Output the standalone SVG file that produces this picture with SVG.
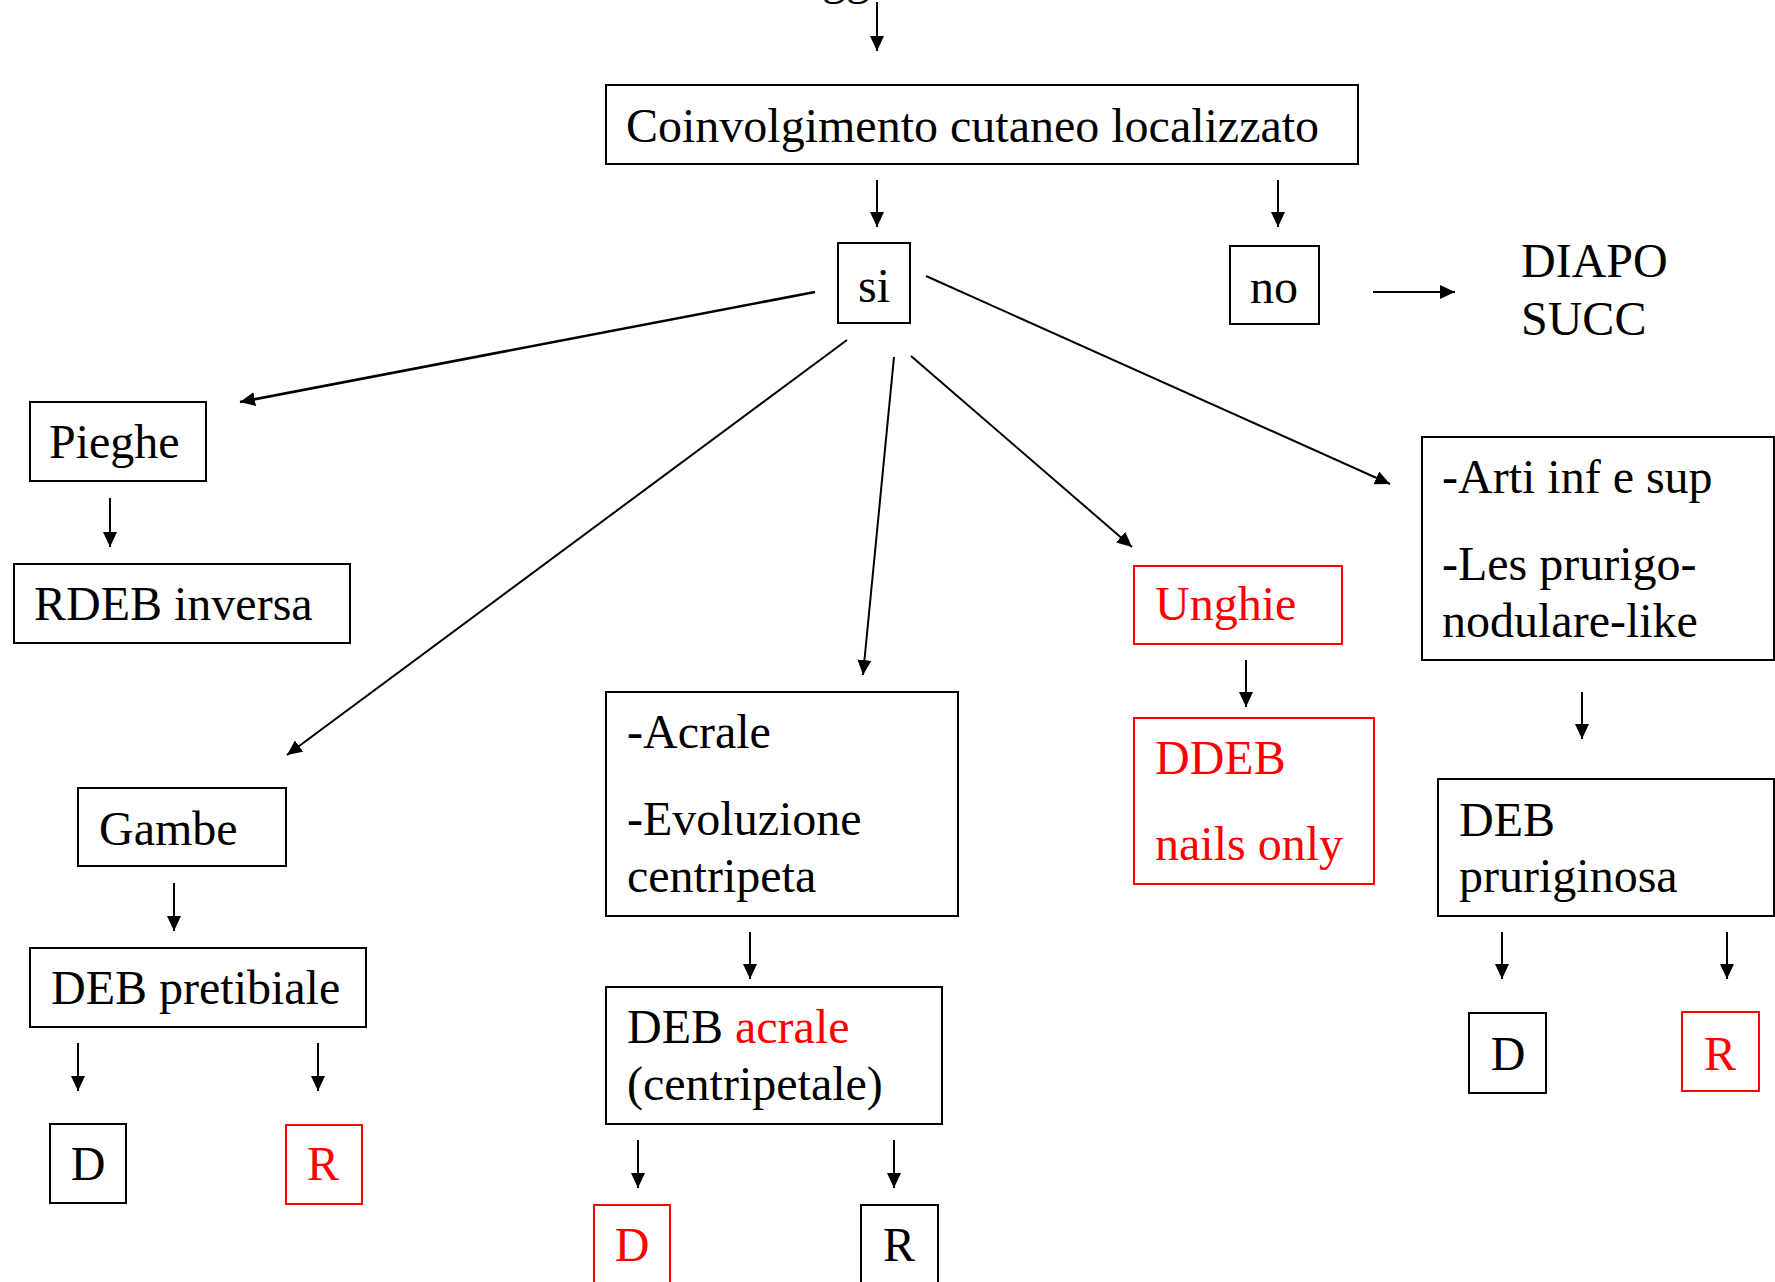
<svg xmlns="http://www.w3.org/2000/svg" width="1775" height="1282" viewBox="0 0 1775 1282">
<style>
text{font-family:"Liberation Serif","Times New Roman",serif;font-size:48px;fill:#000}
.red{fill:#f00}
.box{fill:#fff;stroke:#000;stroke-width:2}
.rbox{fill:#fff;stroke:#f00;stroke-width:2}
.c line{stroke:#000;stroke-width:2;marker-end:url(#ah)}
.mid{text-anchor:middle}
</style>
<defs>
<marker id="ah" markerUnits="userSpaceOnUse" markerWidth="16" markerHeight="15" refX="15" refY="7" orient="auto">
<path d="M0,0 L15,7 L0,14 z" fill="#000"/>
</marker>
</defs>
<rect width="1775" height="1282" fill="#fff"/>
<text x="822" y="-6">gg</text>
<g class="c" id="connectors">
<line x1="877" y1="2" x2="877" y2="51"/>
<line x1="877" y1="180" x2="877" y2="227"/>
<line x1="1278" y1="180" x2="1278" y2="227"/>
<line x1="1373" y1="292" x2="1455" y2="292"/>
<line x1="815" y1="292" x2="240" y2="402" style="stroke-width:2.6"/>
<line x1="847" y1="340" x2="287" y2="755"/>
<line x1="894" y1="357" x2="863" y2="675"/>
<line x1="911" y1="356" x2="1132" y2="547"/>
<line x1="926" y1="276" x2="1390" y2="484"/>
<line x1="110" y1="498" x2="110" y2="547"/>
<line x1="174" y1="883" x2="174" y2="931"/>
<line x1="78" y1="1043" x2="78" y2="1091"/>
<line x1="318" y1="1043" x2="318" y2="1091"/>
<line x1="750" y1="932" x2="750" y2="979"/>
<line x1="638" y1="1140" x2="638" y2="1188"/>
<line x1="894" y1="1140" x2="894" y2="1188"/>
<line x1="1246" y1="660" x2="1246" y2="707"/>
<line x1="1582" y1="692" x2="1582" y2="739"/>
<line x1="1502" y1="932" x2="1502" y2="979"/>
<line x1="1727" y1="932" x2="1727" y2="979"/>
</g>
<g id="coinvolgimento"><rect class="box" x="606" y="85" width="752" height="79"/><text x="626" y="142">Coinvolgimento cutaneo localizzato</text></g>
<g id="si"><rect class="box" x="838" y="243" width="72" height="80"/><text class="mid" x="874" y="302">si</text></g>
<g id="no"><rect class="box" x="1230" y="246" width="89" height="78"/><text class="mid" x="1274" y="303">no</text></g>
<g id="diapo"><text x="1521" y="277">DIAPO</text><text x="1521" y="335">SUCC</text></g>
<g id="pieghe"><rect class="box" x="30" y="402" width="176" height="79"/><text x="49" y="458">Pieghe</text></g>
<g id="rdeb"><rect class="box" x="14" y="564" width="336" height="79"/><text x="34" y="620">RDEB inversa</text></g>
<g id="gambe"><rect class="box" x="78" y="788" width="208" height="78"/><text x="99" y="845">Gambe</text></g>
<g id="pretibiale"><rect class="box" x="30" y="948" width="336" height="79"/><text x="51" y="1004">DEB pretibiale</text></g>
<g id="pret-d"><rect class="box" x="50" y="1124" width="76" height="79"/><text class="mid" x="88" y="1180">D</text></g>
<g id="pret-r"><rect class="rbox" x="286" y="1125" width="76" height="79"/><text class="mid red" x="323" y="1180">R</text></g>
<g id="acrale"><rect class="box" x="606" y="692" width="352" height="224"/><text x="627" y="748">-Acrale</text><text x="627" y="835">-Evoluzione</text><text x="627" y="892">centripeta</text></g>
<g id="deb-acrale"><rect class="box" x="606" y="987" width="336" height="137"/><text x="627" y="1043">DEB <tspan class="red">acrale</tspan></text><text x="627" y="1100">(centripetale)</text></g>
<g id="acr-d"><rect class="rbox" x="594" y="1205" width="76" height="90"/><text class="mid red" x="632" y="1261">D</text></g>
<g id="acr-r"><rect class="box" x="861" y="1205" width="77" height="90"/><text class="mid" x="899" y="1261">R</text></g>
<g id="unghie"><rect class="rbox" x="1134" y="566" width="208" height="78"/><text class="red" x="1155" y="620">Unghie</text></g>
<g id="ddeb"><rect class="rbox" x="1134" y="718" width="240" height="166"/><text class="red" x="1155" y="774">DDEB</text><text class="red" x="1155" y="860">nails only</text></g>
<g id="arti"><rect class="box" x="1422" y="437" width="352" height="223"/><text x="1442" y="493">-Arti inf e sup</text><text x="1442" y="580">-Les prurigo-</text><text x="1442" y="637">nodulare-like</text></g>
<g id="pruriginosa"><rect class="box" x="1438" y="779" width="336" height="137"/><text x="1459" y="836">DEB</text><text x="1459" y="892">pruriginosa</text></g>
<g id="pru-d"><rect class="box" x="1469" y="1013" width="77" height="80"/><text class="mid" x="1508" y="1070">D</text></g>
<g id="pru-r"><rect class="rbox" x="1682" y="1012" width="77" height="79"/><text class="mid red" x="1720" y="1070">R</text></g>
</svg>
